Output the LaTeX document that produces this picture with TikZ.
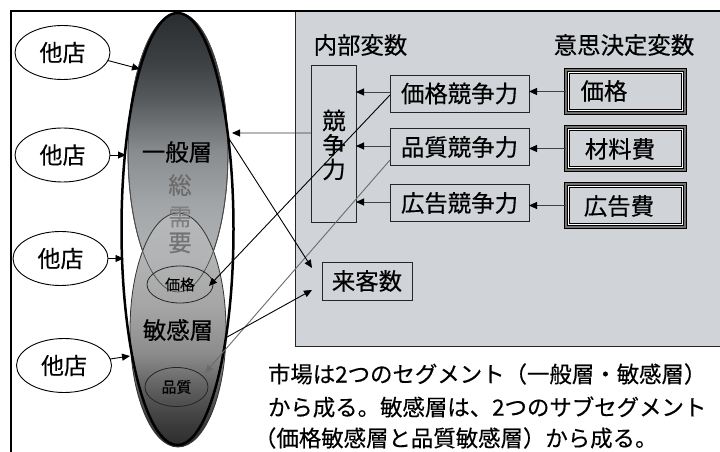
\documentclass[tikz,border=0pt]{standalone}
\usepackage{fontspec}
\setmainfont{Noto Sans CJK JP}[FakeBold=0.35]
\usetikzlibrary{arrows.meta,shapes.geometric,calc}
\definecolor{panel}{RGB}{208,212,216}
\definecolor{gA}{RGB}{184,186,187}
\definecolor{gB}{RGB}{164,167,169}
\definecolor{gC}{RGB}{138,141,144}
\definecolor{gD}{RGB}{85,88,91}
\definecolor{gF}{RGB}{62,65,68}
\definecolor{gE}{RGB}{42,45,48}
\definecolor{sA}{RGB}{44,44,44}
\definecolor{sB}{RGB}{60,60,60}
\definecolor{sC}{RGB}{92,92,92}
\definecolor{sD}{RGB}{140,140,140}
\definecolor{sE}{RGB}{165,165,165}
\definecolor{sF}{RGB}{178,179,180}
\definecolor{sG}{RGB}{182,184,185}
\pgfdeclareverticalshading{genshade}{100bp}{color(0bp)=(gA); color(25bp)=(gA); color(40bp)=(gB); color(50bp)=(gC); color(60bp)=(gD); color(66bp)=(gF); color(75bp)=(gE); color(100bp)=(gE)}
\pgfdeclareverticalshading{senshade}{100bp}{color(0bp)=(sA); color(25bp)=(sA); color(30bp)=(sB); color(37bp)=(sC); color(45bp)=(sD); color(55bp)=(sE); color(65bp)=(sF); color(75bp)=(sG); color(100bp)=(sG)}
\newcommand\decbox[4]{%
  \node[dbox] (#1) at (#2) {};
  \draw[white, line width=1bp] ([shift={(2.3bp,-2.3bp)}]#1.north west) rectangle ([shift={(-2.3bp,2.3bp)}]#1.south east);
  \draw[black, line width=1bp] ([shift={(3.3bp,-3.3bp)}]#1.north west) rectangle ([shift={(-3.3bp,3.3bp)}]#1.south east);
  \node[big] (#1t) at (#3) {#4};
}
\begin{document}
\begin{tikzpicture}[x=1bp,y=-1bp,
  every node/.style={inner sep=0pt, outer sep=0pt},
  big/.style={font=\fontsize{23.5}{26}\selectfont},
  arr/.style={-{Triangle[length=8bp,width=7bp,color=black]}, line width=0.9bp},
  kbox/.style={big, draw=black!85, line width=0.9bp, minimum width=139bp, minimum height=37bp, anchor=north west},
  dbox/.style={anchor=north west, fill=panel, draw=black, double=black!55, double distance=2bp, line width=0.8bp, minimum width=119.4bp, minimum height=43.4bp},
  tenp/.style={ellipse, draw=black, line width=0.9bp, fill=white, minimum width=95bp, minimum height=54bp, font=\fontsize{23}{26}\selectfont},
  sub/.style={ellipse, draw=black!85, line width=0.8bp, font=\fontsize{15}{17}\selectfont}
]
\useasboundingbox (0,0) rectangle (720,452);
\fill[white] (0,0) rectangle (720,452);
% panel
\fill[panel] (295,11) rectangle (724,346);
\draw[line width=1bp, black!85] (295,11) -- (295,346) -- (724,346);
% frame
\draw[line width=2bp] (724,11) -- (11,11) -- (11,456);

% segments
\node[ellipse, minimum width=100bp, minimum height=279bp, shading=genshade, draw=black!80, line width=0.8bp] (gen) at (178,152.5) {};
\node[ellipse, minimum width=96bp, minimum height=234bp, shading=senshade, draw=black!80, line width=0.8bp] (sen) at (178,330) {};
\draw[black!70, line width=0.7bp] (gen.center) ellipse [x radius=50, y radius=139.5];
\node[big] (tgen) at (177,152) {一般層};
\node[big, text=black!58] (tso) at (180,185) {総};
\node[big, text=black!50] (tju) at (180,217) {需};
\node[big, text=black!55] (tyo) at (180,243) {要};
\node[big] (tsen) at (178,330) {敏感層};
\node[sub] (ep) at (180,284.5) [minimum width=66bp, minimum height=37bp] {価格};
\node[sub] (eq) at (176.5,387) [minimum width=63bp, minimum height=39bp] {品質};
\node[ellipse, draw=black, line width=2.5bp, minimum width=112bp, minimum height=432bp] (total) at (177.5,229) {};

% other stores
\node[tenp] (o1) at (62.5,52.5) {他店};
\node[tenp] (o2) at (62.5,155) {他店};
\node[tenp] (o3) at (60.5,258.5) {他店};
\node[tenp] (o4) at (64,365.5) {他店};
\coordinate (t1) at (140,69);
\coordinate (t2) at (126,155);
\coordinate (t3) at (123.5,258.5);
\coordinate (t4) at (130,356);
\draw[arr] (o1.-10) -- (t1);
\draw[arr] (o2.east) -- (t2);
\draw[arr] (o3.east) -- (t3);
\draw[arr] (o4.8) -- (t4);

% panel labels
\node[big] (lint) at (360.5,45) {内部変数};
\node[big] (ldec) at (624,45) {意思決定変数};

% internal variable boxes
\node[draw=black!85, line width=0.9bp, minimum width=45bp, minimum height=157bp, anchor=north west] (kyo) at (311,65) {};
\node[big, align=center, font=\fontsize{23.5}{24.5}\selectfont] (kyot) at (334,145) {競\\争\\力};
\node[kbox] (pk) at (390,75) {価格競争力};
\node[kbox] (qk) at (390,128.5) {品質競争力};
\node[kbox] (ak) at (390,184.5) {広告競争力};
\node[big, draw=black!85, line width=0.9bp, minimum width=90bp, minimum height=38bp, anchor=north west] (raik) at (322,262) {来客数};

% decision variables
\decbox{d1}{565.8,69.8}{604,91}{価格}
\decbox{d2}{565.8,126.8}{620,149}{材料費}
\decbox{d3}{565.8,183.8}{619,206}{広告費}

% arrows in panel
\draw[arr, black!75] (d1.west) -- (d1.west -| pk.east);
\draw[arr, black!75] (d2.west) -- (d2.west -| qk.east);
\draw[arr, black!75] (d3.west) -- (d3.west -| ak.east);
\draw[arr, black!75] ([yshift=1.5bp]pk.west) -- ([yshift=1.5bp]pk.west -| kyo.east);
\draw[arr, black!75] ([yshift=1bp]qk.west) -- ([yshift=1bp]qk.west -| kyo.east);
\draw[arr, black!75] ([yshift=1bp]ak.west) -- ([yshift=1bp]ak.west -| kyo.east);
\coordinate (g1) at (232,133);
\draw[arr, black!78] ([yshift=10.5bp]kyo.west) -- (g1);

% cross links
\coordinate (tp) at (209,286);
\coordinate (tq) at (205,373);
\draw[arr] ([yshift=-1.5bp]pk.west) -- (tp);
\draw[-{Triangle[length=8bp,width=7bp]}, line width=0.9bp, black!58] ([yshift=-13bp]qk.west) -- (tq);
\draw[arr] (total.61.8) -- ([xshift=-10bp,yshift=13bp]raik.west);
\draw[arr] (total.-66) -- ([xshift=-10bp,yshift=-9bp]raik.west);

% caption
\node[anchor=west, font=\fontsize{22.5}{26}\selectfont] (c1) at (268,374) {市場は2つのセグメント（一般層・敏感層）};
\node[anchor=west, font=\fontsize{22.5}{26}\selectfont] (c2) at (268,407) {から成る。敏感層は、2つのサブセグメント};
\node[anchor=west, font=\fontsize{22.5}{26}\selectfont] (c3) at (254,438) {（価格敏感層と品質敏感層）から成る。};
\end{tikzpicture}
\end{document}
